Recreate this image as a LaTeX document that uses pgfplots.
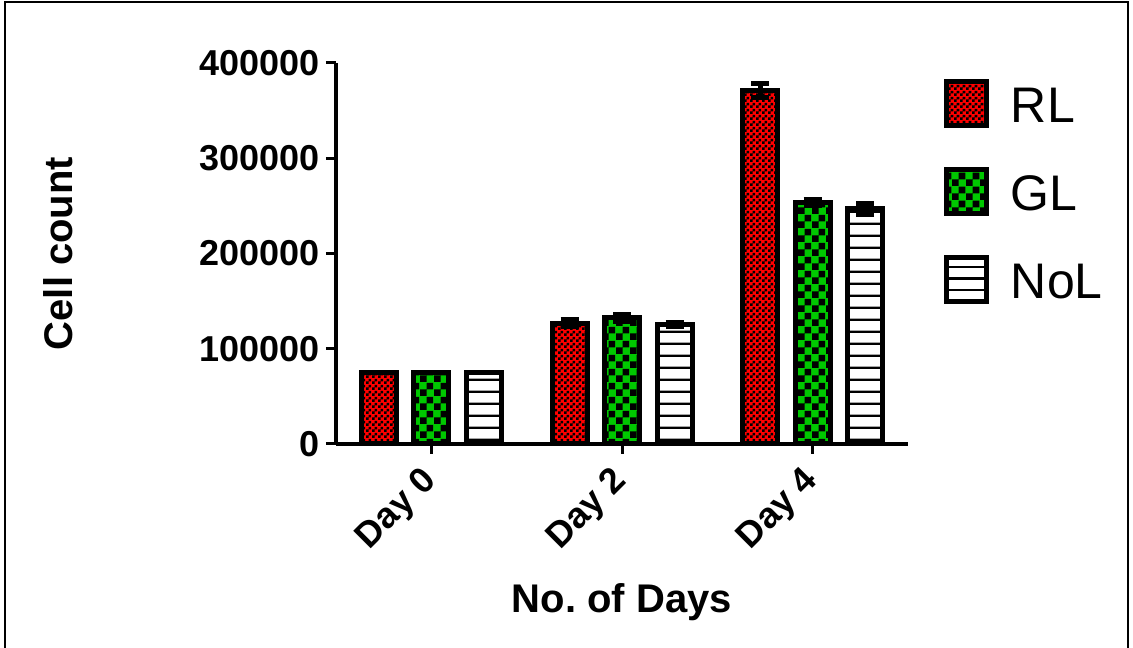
\documentclass[border=0pt]{standalone}
\usepackage{fontspec}
\setmainfont{Liberation Sans}
\usepackage{pgfplots}
\pgfplotsset{compat=1.18}
\usetikzlibrary{patterns}

\pgfdeclarepatternformonly{smallcheck}{\pgfpointorigin}{\pgfpoint{6pt}{6pt}}{\pgfpoint{6pt}{6pt}}{%
  \pgfpathrectangle{\pgfpointorigin}{\pgfpoint{3pt}{3pt}}%
  \pgfpathrectangle{\pgfpoint{3pt}{3pt}}{\pgfpoint{3pt}{3pt}}%
  \pgfusepath{fill}}
\pgfdeclarepatternformonly{bigcheck}{\pgfpointorigin}{\pgfpoint{14pt}{14pt}}{\pgfpoint{14pt}{14pt}}{%
  \pgfpathrectangle{\pgfpointorigin}{\pgfpoint{7pt}{7pt}}%
  \pgfpathrectangle{\pgfpoint{7pt}{7pt}}{\pgfpoint{7pt}{7pt}}%
  \pgfusepath{fill}}
\pgfdeclarepatternformonly{hstripes}{\pgfpointorigin}{\pgfpoint{400pt}{11.5pt}}{\pgfpoint{400pt}{11.5pt}}{%
  \pgfpathrectangle{\pgfpointorigin}{\pgfpoint{400pt}{2.5pt}}%
  \pgfusepath{fill}}

\definecolor{rlred}{RGB}{255,0,0}
\definecolor{glgreen}{RGB}{0,200,0}

\begin{document}
\frenchspacing
\begin{tikzpicture}
\useasboundingbox (0pt,0pt) rectangle (1133pt,648pt);
\draw[line width=2.5pt] (5pt,0pt) -- (5pt,646pt) -- (1128pt,646pt) -- (1128pt,0pt);
\begin{axis}[
  at={(336pt,204pt)}, anchor=south west,
  scale only axis, width=572pt, height=381pt,
  ybar, bar width=35pt,
  xmin=-0.5, xmax=2.5, ymin=0, ymax=400000,
  axis x line=bottom, axis y line=left,
  axis line style={-, line width=3.5pt, black},
  xtick={0,1,2}, xticklabels={Day 0, Day 2, Day 4},
  ytick={0,100000,200000,300000,400000},
  yticklabels={0,100000,200000,300000,400000},
  scaled y ticks=false,
  tick align=outside, major tick length=10pt,
  tick style={line width=3pt, black},
  minor tick num=0,
  yticklabel style={font=\fontsize{36}{40}\selectfont\bfseries, inner sep=0pt},
  yticklabel shift=6.5pt,
  xticklabel style={font=\fontsize{36}{40}\selectfont\bfseries, rotate=45, anchor=east, inner sep=0pt},
  xticklabel shift=22pt,
  xlabel={No.\ of Days}, ylabel={Cell count},
  label style={font=\fontsize{40}{44}\selectfont\bfseries},
  x label style={at={(axis description cs:0.5,-0.441)}, anchor=base},
  y label style={at={(axis description cs:-0.4598,0.5)}, anchor=base, rotate=0},
  legend style={at={(rel axis cs:1.0638,0.9567)}, anchor=north west,
    draw=none, fill=none, inner sep=0pt, outer sep=0pt,
    row sep=39pt, column sep=21.5pt,
    font=\fontsize{50}{55}\selectfont,
    nodes={inner sep=0pt, text height=37pt, text depth=0pt, anchor=base west}},
  legend cell align=left,
  legend image code/.code={\draw[#1, line width=5pt] (0pt,-3.5pt) rectangle (40pt,40.5pt);},
  clip=false,
]
\addplot[bar shift=-52.5pt, draw=black, line width=5pt,
  fill=rlred, postaction={pattern=smallcheck, pattern color=black},
  error bars/.cd, y dir=both, y explicit,
  error bar style={line width=5pt, black, solid},
  error mark options={rotate=90, line width=5pt, mark size=9pt, black}]
  coordinates {(0,75000) +- (0,0) (1,127000) +- (0,4000) (2,371000) +- (0,7000)};
\addlegendentry{RL}
\addplot[bar shift=0pt, draw=black, line width=5pt,
  fill=glgreen, postaction={pattern=bigcheck, pattern color=black},
  error bars/.cd, y dir=both, y explicit,
  error bar style={line width=5pt, black, solid},
  error mark options={rotate=90, line width=5pt, mark size=9pt, black}]
  coordinates {(0,75000) +- (0,0) (1,132500) +- (0,3500) (2,253500) +- (0,3000)};
\addlegendentry{GL}
\addplot[bar shift=52.5pt, draw=black, line width=5pt,
  fill=white, postaction={pattern=hstripes, pattern color=black},
  error bars/.cd, y dir=both, y explicit,
  error bar style={line width=5pt, black, solid},
  error mark options={rotate=90, line width=5pt, mark size=9pt, black}]
  coordinates {(0,75000) +- (0,0) (1,125500) +- (0,2000) (2,247000) +- (0,6000)};
\addlegendentry{NoL}
\end{axis}
\end{tikzpicture}
\end{document}
